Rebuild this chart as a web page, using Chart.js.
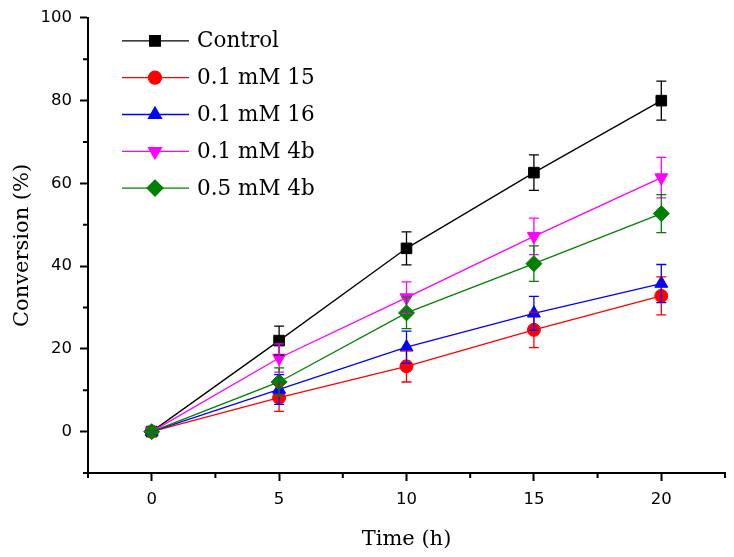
<!DOCTYPE html>
<html>
<head>
<meta charset="utf-8">
<script src="https://cdn.jsdelivr.net/npm/chart.js@4/dist/chart.umd.min.js"></script>
<style>
  body { margin: 0; background: #fff; }
  canvas { display: block; }
</style>
</head>
<body>
<canvas id="myChart" width="734" height="557"></canvas>
<script>
const times = [0, 5, 10, 15, 20];
const seriesNames = ['Control', '0.1 mM 15', '0.1 mM 16', '0.1 mM 4b', '0.5 mM 4b'];
const control = [0, 22.0, 44.3, 62.6, 80.0];
const mM15 = [0, 8.2, 15.8, 24.6, 32.8];
const mM16 = [0, 10.2, 20.4, 28.6, 35.8];
const mM4b = [0, 17.8, 32.4, 47.2, 61.4];
const mM4bHigh = [0, 12.0, 28.7, 40.6, 52.7];
const controlErr = [0.5, 3.5, 4.0, 4.3, 4.7];
const mM15Err = [0.5, 3.3, 3.8, 4.3, 4.6];
const mM16Err = [0.5, 3.6, 3.9, 4.1, 4.6];
const mM4bErr = [0.5, 3.4, 3.8, 4.4, 4.9];
const mM4bHighErr = [0.5, 3.4, 3.8, 4.3, 4.6];
const xTickLabels = [0, 5, 10, 15, 20];
const yTickLabels = [0, 20, 40, 60, 80, 100];

const serif = "'DejaVu Serif', serif";
const sans = "'DejaVu Sans', sans-serif";

const makeSet = (label, values, errors, color, style, radius, rotation, order) => ({
    label: label,
    data: values.map((v, i) => ({ x: times[i], y: v })),
    errors: errors,
    borderColor: color,
    backgroundColor: color,
    pointBackgroundColor: color,
    pointBorderColor: color,
    pointStyle: style,
    pointRadius: radius,
    pointRotation: rotation,
    pointBorderWidth: 1,
    borderWidth: 1.3,
    tension: 0,
    order: order
});

const datasets = [
    makeSet(seriesNames[0], control, controlErr, '#000000', 'rect', 7.5, 0, 5),
    makeSet(seriesNames[1], mM15, mM15Err, '#ff0000', 'circle', 6.5, 0, 4),
    makeSet(seriesNames[2], mM16, mM16Err, '#0000ff', 'triangle', 7.5, 0, 3),
    makeSet(seriesNames[3], mM4b, mM4bErr, '#ff00ff', 'triangle', 7.5, 180, 2),
    makeSet(seriesNames[4], mM4bHigh, mM4bHighErr, '#008000', 'rectRot', 8, 0, 1)
];

// error bars with caps, drawn over the markers
const errorBars = {
    id: 'errorBars',
    afterDatasetsDraw(chart) {
        const ctx = chart.ctx;
        const xs = chart.scales.x;
        const ys = chart.scales.y;
        ctx.save();
        chart.data.datasets.forEach(ds => {
            ctx.strokeStyle = ds.borderColor;
            ctx.lineWidth = 1.3;
            ds.data.forEach((p, i) => {
                const e = ds.errors[i];
                const px = xs.getPixelForValue(p.x);
                const top = ys.getPixelForValue(p.y + e);
                const bot = ys.getPixelForValue(p.y - e);
                ctx.beginPath();
                ctx.moveTo(px, top);
                ctx.lineTo(px, bot);
                ctx.moveTo(px - 5, top);
                ctx.lineTo(px + 5, top);
                ctx.moveTo(px - 5, bot);
                ctx.lineTo(px + 5, bot);
                ctx.stroke();
            });
        });
        ctx.restore();
    }
};

// short minor ticks between the labelled ones
const minorTicks = {
    id: 'minorTicks',
    afterDraw(chart) {
        const ctx = chart.ctx;
        const xs = chart.scales.x;
        const ys = chart.scales.y;
        ctx.save();
        ctx.strokeStyle = '#000';
        ctx.lineWidth = 2;
        ctx.beginPath();
        xs.ticks.forEach(t => {
            if (t.value % 5 !== 0) {
                const px = xs.getPixelForValue(t.value);
                ctx.moveTo(px, xs.top);
                ctx.lineTo(px, xs.top + 5);
            }
        });
        ys.ticks.forEach(t => {
            if (t.value % 20 !== 0) {
                const py = ys.getPixelForValue(t.value);
                ctx.moveTo(ys.right, py);
                ctx.lineTo(ys.right - 5, py);
            }
        });
        ctx.stroke();
        ctx.restore();
    }
};

// legend inside the plot, top left
const insideLegend = {
    id: 'insideLegend',
    afterDraw(chart) {
        const ctx = chart.ctx;
        const area = chart.chartArea;
        const x0 = area.left + 34;
        const y0 = area.top + 23;
        ctx.save();
        chart.data.datasets.forEach((ds, i) => {
            const y = y0 + i * 36.8;
            ctx.strokeStyle = ds.borderColor;
            ctx.lineWidth = 1.3;
            ctx.beginPath();
            ctx.moveTo(x0, y);
            ctx.lineTo(x0 + 67, y);
            ctx.stroke();
            ctx.fillStyle = ds.backgroundColor;
            Chart.helpers.drawPoint(ctx, {
                pointStyle: ds.pointStyle,
                rotation: ds.pointRotation,
                radius: ds.pointRadius,
                borderWidth: 1
            }, x0 + 33, y);
            ctx.fillStyle = '#000';
            ctx.font = '21.5px ' + serif;
            ctx.textBaseline = 'middle';
            ctx.fillText(ds.label, x0 + 75, y + 1);
        });
        ctx.restore();
    }
};

const ctx = document.getElementById('myChart');

const myChart = new Chart(ctx, {
    type: 'line',
    data: { datasets: datasets },
    options: {
        responsive: false,
        animation: false,
        layout: { padding: { top: 8, right: 8, left: 0, bottom: 0 } },
        plugins: {
            legend: { display: false },
            tooltip: { enabled: false }
        },
        scales: {
            x: {
                type: 'linear',
                min: -2.5,
                max: 22.5,
                afterFit: (scale) => { scale.height = 84; },
                ticks: {
                    stepSize: 2.5,
                    color: '#000',
                    font: { family: sans, size: 16.5 },
                    padding: 9,
                    maxRotation: 0,
                    callback: (v) => xTickLabels.includes(v) ? String(v) : ''
                },
                grid: {
                    drawOnChartArea: false,
                    tickLength: 8,
                    tickWidth: 2,
                    tickColor: (c) => (c.tick && c.tick.value % 5 === 0) ? '#000' : 'rgba(0,0,0,0)'
                },
                border: { color: '#000', width: 2 },
                title: {
                    display: true,
                    text: 'Time (h)',
                    color: '#000',
                    font: { family: serif, size: 21 },
                    padding: { top: 6, bottom: 5 }
                }
            },
            y: {
                min: -10,
                max: 100,
                afterFit: (scale) => { scale.width = 88; },
                ticks: {
                    stepSize: 10,
                    color: '#000',
                    font: { family: sans, size: 16.5 },
                    padding: 8,
                    callback: (v) => yTickLabels.includes(v) ? String(v) : ''
                },
                grid: {
                    drawOnChartArea: false,
                    tickLength: 8,
                    tickWidth: 2,
                    tickColor: (c) => (c.tick && c.tick.value % 20 === 0) ? '#000' : 'rgba(0,0,0,0)'
                },
                border: { color: '#000', width: 2 },
                title: {
                    display: true,
                    text: 'Conversion (%)',
                    color: '#000',
                    font: { family: serif, size: 21 },
                    padding: { top: 10, bottom: 4 }
                }
            }
        }
    },
    plugins: [errorBars, minorTicks, insideLegend]
});
</script>
</body>
</html>
